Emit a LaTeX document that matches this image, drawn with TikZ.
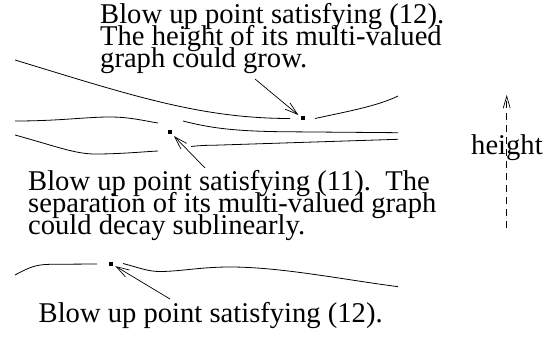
\documentclass[tikz,border=0pt]{standalone}
\usepackage{fontspec}
\setmainfont{Liberation Serif}
\usetikzlibrary{arrows.meta}
\newcommand\lblfont{\fontsize{28.6}{22}\selectfont\lineskiplimit=-30pt\relax\lineskip=0pt\relax}
\begin{document}
\begin{tikzpicture}[x=1pt,y=-1pt,
  curve/.style={line width=0.8pt},
  pointer/.style={line width=0.7pt,-{Straight Barb[length=13pt,width=8pt]},shorten >=2.5pt},
  dotsq/.style={fill=black,inner sep=0pt,minimum size=4pt,rectangle},
  label/.style={inner sep=0pt,align=left,anchor=base west,font=\lblfont}]
\useasboundingbox (0,0) rectangle (550,337);
% texts (anchor = baseline of the last line)
\node[label] (t1) at (100,67.3) {Blow up point satisfying (12).\\The height of its multi-valued\\graph could grow.};
\node[label] (t2) at (28,234) {Blow up point satisfying (11).\ \ The\\separation of its multi-valued graph\\could decay sublinearly.};
\node[label] (t3) at (38.5,322) {Blow up point satisfying (12).};
\node[label] (h) at (471,155) {height};
% dots
\node[dotsq] (d1) at (170,132) {};
\node[dotsq] (d2) at (302.5,118.5) {};
\node[dotsq] (d3) at (111,263.5) {};
% curves
\draw[curve] (15,60) .. controls (130,95) and (200,118.5) .. (290,118.5);
\draw[curve] (315,118.5) .. controls (345,112) and (378,106) .. (398,96);
\draw[curve] (15,121) .. controls (60,121) and (85,117) .. (110,117) .. controls (130,117) and (145,121) .. (158,123);
\draw[curve] (15,135) .. controls (55,146) and (75,154) .. (95,154) .. controls (120,154) and (140,152) .. (158,151);
\draw[curve] (183,121) .. controls (210,128) and (235,131.5) .. (290,131.8) -- (398,132.7);
\draw[curve] (191,146.5) .. controls (200,145.5) and (205,145.3) .. (215,145.2) -- (398,139.3);
\draw[curve] (15,275) .. controls (28,268) and (35,264.5) .. (50,264.3) -- (97,264);
\draw[curve] (123,263.5) .. controls (140,268) and (148,271.5) .. (160,271.5) .. controls (180,271.5) and (200,267) .. (230,267) .. controls (280,267) and (340,279) .. (398,286.7);
% pointers
\coordinate (a1) at (205,168);
\coordinate (a2) at (255,79);
\coordinate (a3) at (170,299);
\draw[pointer] (a1) -- (d1);
\draw[pointer] (a2) -- (d2);
\draw[pointer] (a3) -- (d3);
% height axis
\coordinate (hb) at (506.7,228);
\coordinate (ht) at (506.7,95);
\draw[line width=0.7pt,dash pattern=on 7pt off 5pt,-{Straight Barb[length=12pt,width=7pt]}] (hb) -- (ht);
\end{tikzpicture}
\end{document}
